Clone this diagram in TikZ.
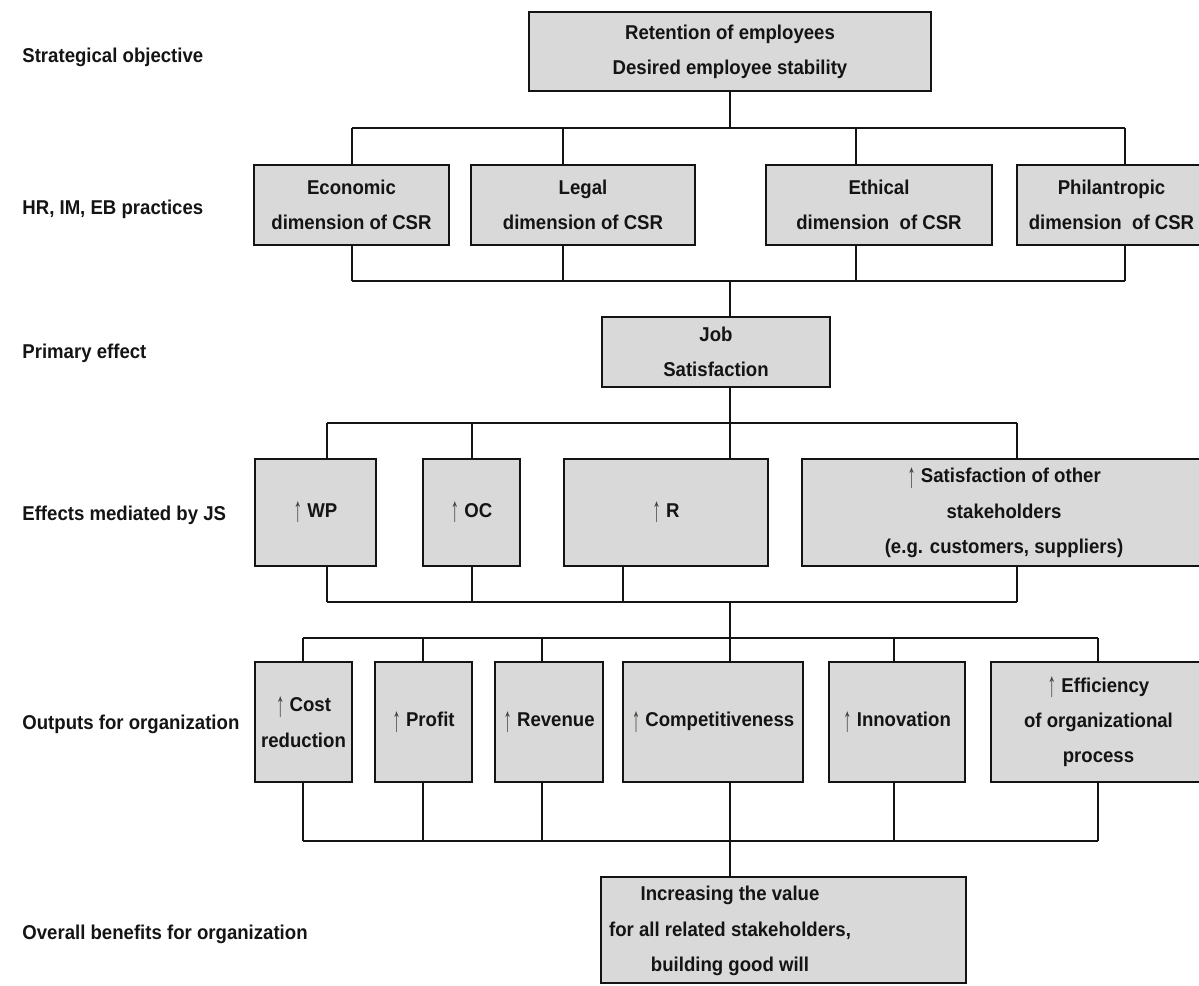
\documentclass[tikz,border=0pt]{standalone}
\usepackage{fontspec}
\setmainfont{Liberation Sans}[FakeStretch=0.93]
\newfontfamily\arrowfont{Liberation Sans}
\definecolor{boxgray}{RGB}{217,217,217}
\definecolor{inkc}{RGB}{20,20,20}
\definecolor{arrowc}{RGB}{70,62,55}
\newcommand{\upar}{\raisebox{-2.2pt}{\textcolor{arrowc}{\arrowfont\mdseries\scalebox{0.85}[1.75]{↑}}} }
\newcommand{\bx}[6]{\node[box, minimum width={(#4-#2)*0.5pt}, minimum height={(#5-#3)*0.5pt}] (#1) at ({(#2+#4)/2},{(#3+#5)/2}) {#6};}
\begin{document}
\begin{tikzpicture}[x=0.5pt, y=-0.5pt,
  txt/.style={font=\fontsize{10}{17.6}\selectfont\bfseries, text=inkc},
  box/.style={txt, draw=inkc, line width=1.4pt, fill=boxgray, inner sep=0pt, align=center},
  conn/.style={draw=inkc, line width=0.9pt},
  lab/.style={txt, anchor=base west, inner sep=0pt}]
\useasboundingbox (0,0) rectangle (1199,985);

% row labels
\node[lab] (l1) at (22,62) {Strategical objective};
\node[lab] (l2) at (22,214) {HR, IM, EB practices};
\node[lab] (l3) at (22,358) {Primary effect};
\node[lab] (l4) at (22,520) {Effects mediated by JS};
\node[lab] (l5) at (22,729) {Outputs for organization};
\node[lab] (l6) at (22,939) {Overall benefits for organization};

% boxes
\bx{top}{529}{12}{931}{91}{Retention of employees\\Desired employee stability}
\bx{eco}{254}{165}{449}{245}{Economic\\dimension of CSR}
\bx{leg}{471}{165}{695}{245}{Legal\\dimension of CSR}
\bx{eth}{766}{165}{992}{245}{Ethical\\dimension\ \ of CSR}
\bx{phi}{1017}{165}{1206}{245}{Philantropic\\dimension\ \ of CSR}
\bx{job}{602}{317}{830}{387}{Job\\Satisfaction}
\bx{wp}{255}{459}{376}{566}{\upar WP}
\bx{oc}{423}{459}{520}{566}{\upar OC}
\bx{r}{564}{459}{768}{566}{\upar R}
\bx{sat}{802}{459}{1206}{566}{\upar Satisfaction of other\\stakeholders\\(e.g. customers, suppliers)}
\bx{cost}{255}{662}{352}{782}{\upar Cost\\reduction}
\bx{pro}{375}{662}{472}{782}{\upar Profit}
\bx{rev}{495}{662}{603}{782}{\upar Revenue}
\bx{com}{623}{662}{803}{782}{\upar Competitiveness}
\bx{inn}{829}{662}{965}{782}{\upar Innovation}
\bx{eff}{991}{662}{1206}{782}{\upar Efficiency\\of organizational\\process}
\bx{ben}{601}{877}{966}{983}{}
\node[txt, align=center, inner sep=0pt] (bentext) at (730,931) {Increasing the value\\for all related stakeholders,\\building good will};

% bus 1
\coordinate (b1) at (730,128);
\draw[conn] (top.south -| b1) -- (b1);
\draw[conn] (352,128) -- (1125,128);
\foreach \x/\n in {352/eco,563/leg,856/eth,1125/phi}
  \draw[conn] (\x,128) -- (\n.north -| \x,128);
% bus 2
\coordinate (b2) at (730,281);
\draw[conn] (352,281) -- (1125,281);
\foreach \x/\n in {352/eco,563/leg,856/eth,1125/phi}
  \draw[conn] (\n.south -| \x,281) -- (\x,281);
\draw[conn] (b2) -- (job.north -| b2);
% bus 3
\coordinate (b3) at (730,423);
\draw[conn] (job.south -| b3) -- (b3);
\draw[conn] (327,423) -- (1017,423);
\foreach \x/\n in {327/wp,472/oc,730/r,1017/sat}
  \draw[conn] (\x,423) -- (\n.north -| \x,423);
% bus 4
\coordinate (b4) at (730,602);
\draw[conn] (327,602) -- (1017,602);
\foreach \x/\n in {327/wp,472/oc,623/r,1017/sat}
  \draw[conn] (\n.south -| \x,602) -- (\x,602);
\coordinate (b5) at (730,638);
\draw[conn] (b4) -- (b5);
% bus 5
\draw[conn] (303,638) -- (1098,638);
\foreach \x/\n in {303/cost,423/pro,542/rev,730/com,894/inn,1098/eff}
  \draw[conn] (\x,638) -- (\n.north -| \x,638);
% bus 6
\coordinate (b6) at (730,841);
\draw[conn] (303,841) -- (1098,841);
\foreach \x/\n in {303/cost,423/pro,542/rev,730/com,894/inn,1098/eff}
  \draw[conn] (\n.south -| \x,841) -- (\x,841);
\draw[conn] (b6) -- (ben.north -| b6);
\end{tikzpicture}
\end{document}
